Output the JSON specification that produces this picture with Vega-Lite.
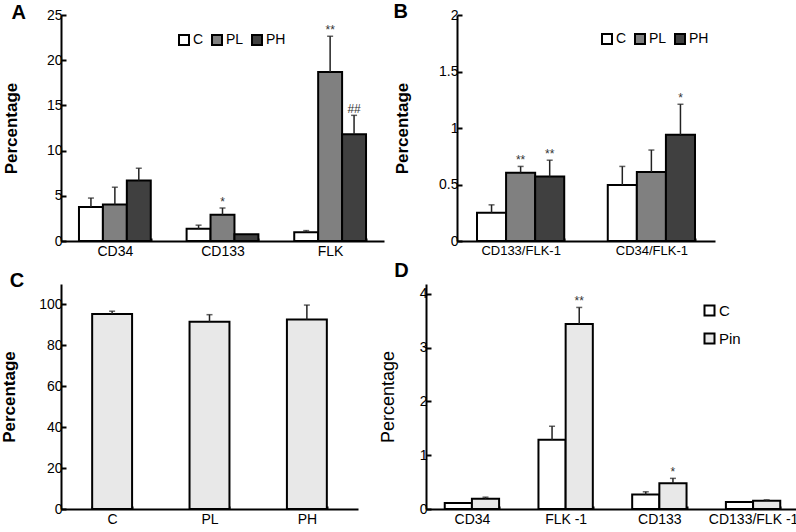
{
  "$schema": "https://vega.github.io/schema/vega-lite/v6.json",
  "padding": {"left": 0, "top": 2, "right": 0, "bottom": 0},
  "spacing": 3,
  "config": {
    "view": {"stroke": null},
    "font": "Liberation Sans",
    "axis": {"domainColor": "black", "domainWidth": 2, "tickColor": "black", "tickWidth": 2, "labelColor": "black", "labelFont": "Liberation Sans", "labelFontSize": 14, "titleFont": "Liberation Sans", "titleColor": "black", "grid": false},
    "axisY": {"tickSize": -5, "labelPadding": 4, "titleFontSize": 17, "titleFontWeight": "bold", "format": "~r"},
    "axisX": {"tickSize": -3, "labelPadding": 6, "labelAngle": 0, "title": null, "tickBand": "extent"},
    "legend": {"symbolType": "square", "symbolStrokeColor": "black", "symbolStrokeWidth": 2, "symbolSize": 100, "labelFontSize": 14, "labelColor": "black", "labelFont": "Liberation Sans", "labelOffset": 2, "title": null},
    "title": {"font": "Liberation Sans", "fontSize": 20, "fontWeight": "bold", "color": "black", "anchor": "start", "frame": "bounds"}
  },
  "resolve": {"scale": {"fill": "independent", "xOffset": "independent", "x": "independent", "y": "independent"}, "legend": {"fill": "independent"}},
  "vconcat": [
    {
      "spacing": 73,
      "bounds": "flush",
      "resolve": {"scale": {"fill": "independent", "xOffset": "independent", "x": "independent", "y": "independent"}, "legend": {"fill": "independent"}},
      "hconcat": [
        {
          "width": 323, "height": 226,
          "title": {"text": "A", "offset": -15, "dx": 9},
          "data": {"values": [
            {"marker": "CD34", "group": "C", "value": 3.75, "err": 4.75},
            {"marker": "CD34", "group": "PL", "value": 4.05, "err": 5.95},
            {"marker": "CD34", "group": "PH", "value": 6.7, "err": 8.05},
            {"marker": "CD133", "group": "C", "value": 1.35, "err": 1.75},
            {"marker": "CD133", "group": "PL", "value": 2.9, "err": 3.65, "ann": "*"},
            {"marker": "CD133", "group": "PH", "value": 0.75},
            {"marker": "FLK", "group": "C", "value": 0.98, "err": 1.15},
            {"marker": "FLK", "group": "PL", "value": 18.7, "err": 22.65, "ann": "**"},
            {"marker": "FLK", "group": "PH", "value": 11.8, "err": 13.9, "ann": "##"}
          ]},
          "encoding": {
            "x": {"field": "marker", "type": "nominal", "sort": ["CD34", "CD133", "FLK"], "scale": {"paddingInner": 0.333, "paddingOuter": 0.167}},
            "xOffset": {"field": "group", "type": "nominal", "sort": ["C", "PL", "PH"], "scale": {"paddingInner": 0, "paddingOuter": 0}}
          },
          "layer": [
            {"mark": {"type": "bar", "stroke": "black", "strokeWidth": 2},
             "encoding": {
               "y": {"field": "value", "type": "quantitative", "title": "Percentage", "scale": {"domain": [0, 25], "nice": false}, "axis": {"values": [0, 5, 10, 15, 20, 25], "titlePadding": 26}},
               "fill": {"field": "group", "type": "nominal", "scale": {"domain": ["C", "PL", "PH"], "range": ["#ffffff", "#808080", "#404040"]}, "legend": {"orient": "none", "direction": "horizontal", "legendX": 116, "legendY": 18, "columnPadding": 4}}
             }},
            {"transform": [{"filter": "isValid(datum.err)"}], "mark": {"type": "rule", "strokeWidth": 1.5, "color": "#222"},
             "encoding": {"y": {"field": "value", "type": "quantitative", "title": "Percentage"}, "y2": {"field": "err"}}},
            {"transform": [{"filter": "isValid(datum.err)"}], "mark": {"type": "tick", "size": 6, "thickness": 1.5, "color": "#222"},
             "encoding": {"y": {"field": "err", "type": "quantitative", "title": "Percentage"}}},
            {"transform": [{"filter": "isValid(datum.ann)"}], "mark": {"type": "text", "fontSize": 12, "baseline": "alphabetic", "dy": -2, "color": "#333"},
             "encoding": {"y": {"field": "err", "type": "quantitative", "title": "Percentage"}, "text": {"field": "ann"}}}
          ]
        },
        {
          "width": 258, "height": 226,
          "title": {"text": "B", "offset": -14, "dx": 0},
          "data": {"values": [
            {"marker": "CD133/FLK-1", "group": "C", "value": 0.25, "err": 0.32},
            {"marker": "CD133/FLK-1", "group": "PL", "value": 0.605, "err": 0.66, "ann": "**"},
            {"marker": "CD133/FLK-1", "group": "PH", "value": 0.57, "err": 0.715, "ann": "**"},
            {"marker": "CD34/FLK-1", "group": "C", "value": 0.495, "err": 0.66},
            {"marker": "CD34/FLK-1", "group": "PL", "value": 0.61, "err": 0.805},
            {"marker": "CD34/FLK-1", "group": "PH", "value": 0.94, "err": 1.21, "ann": "*"}
          ]},
          "encoding": {
            "x": {"field": "marker", "type": "nominal", "sort": ["CD133/FLK-1", "CD34/FLK-1"], "scale": {"paddingInner": 0.333, "paddingOuter": 0.153}, "axis": {"labelFontSize": 13}},
            "xOffset": {"field": "group", "type": "nominal", "sort": ["C", "PL", "PH"], "scale": {"paddingInner": 0, "paddingOuter": 0}}
          },
          "layer": [
            {"mark": {"type": "bar", "stroke": "black", "strokeWidth": 2},
             "encoding": {
               "y": {"field": "value", "type": "quantitative", "title": "Percentage", "scale": {"domain": [0, 2], "nice": false}, "axis": {"values": [0, 0.5, 1, 1.5, 2], "titlePadding": 27}},
               "fill": {"field": "group", "type": "nominal", "scale": {"domain": ["C", "PL", "PH"], "range": ["#ffffff", "#808080", "#404040"]}, "legend": {"orient": "none", "direction": "horizontal", "legendX": 143, "legendY": 17, "columnPadding": 4}}
             }},
            {"transform": [{"filter": "isValid(datum.err)"}], "mark": {"type": "rule", "strokeWidth": 1.5, "color": "#222"},
             "encoding": {"y": {"field": "value", "type": "quantitative", "title": "Percentage"}, "y2": {"field": "err"}}},
            {"transform": [{"filter": "isValid(datum.err)"}], "mark": {"type": "tick", "size": 6, "thickness": 1.5, "color": "#222"},
             "encoding": {"y": {"field": "err", "type": "quantitative", "title": "Percentage"}}},
            {"transform": [{"filter": "isValid(datum.ann)"}], "mark": {"type": "text", "fontSize": 12, "baseline": "alphabetic", "dy": -2, "color": "#333"},
             "encoding": {"y": {"field": "err", "type": "quantitative", "title": "Percentage"}, "text": {"field": "ann"}}}
          ]
        }
      ]
    },
    {
      "spacing": 68,
      "bounds": "flush",
      "resolve": {"scale": {"fill": "independent", "xOffset": "independent", "x": "independent", "y": "independent"}, "legend": {"fill": "independent"}},
      "hconcat": [
        {
          "width": 297, "height": 225,
          "title": {"text": "C", "offset": -7, "dx": 9},
          "data": {"values": [
            {"group": "C", "value": 95.3, "err": 96.7},
            {"group": "PL", "value": 91.5, "err": 95.0},
            {"group": "PH", "value": 92.7, "err": 99.7}
          ]},
          "encoding": {
            "x": {"field": "group", "type": "nominal", "sort": ["C", "PL", "PH"], "scale": {"paddingInner": 0.59, "paddingOuter": 0.32}}
          },
          "layer": [
            {"mark": {"type": "bar", "stroke": "black", "strokeWidth": 2, "fill": "#e8e8e8"},
             "encoding": {
               "y": {"field": "value", "type": "quantitative", "title": "Percentage", "scale": {"domain": [0, 110], "nice": false}, "axis": {"values": [0, 20, 40, 60, 80, 100], "titlePadding": 20}}
             }},
            {"mark": {"type": "rule", "strokeWidth": 1.5, "color": "#222"},
             "encoding": {"y": {"field": "value", "type": "quantitative", "title": "Percentage"}, "y2": {"field": "err"}}},
            {"mark": {"type": "tick", "size": 6, "thickness": 1.5, "color": "#222"},
             "encoding": {"y": {"field": "err", "type": "quantitative", "title": "Percentage"}}}
          ]
        },
        {
          "width": 373, "height": 225,
          "title": {"text": "D", "offset": 3, "dx": 15},
          "data": {"values": [
            {"marker": "CD34", "group": "C", "value": 0.11},
            {"marker": "CD34", "group": "Pin", "value": 0.19, "err": 0.22},
            {"marker": "FLK -1", "group": "C", "value": 1.29, "err": 1.54},
            {"marker": "FLK -1", "group": "Pin", "value": 3.44, "err": 3.75, "ann": "**"},
            {"marker": "CD133", "group": "C", "value": 0.27, "err": 0.32},
            {"marker": "CD133", "group": "Pin", "value": 0.48, "err": 0.57, "ann": "*"},
            {"marker": "CD133/FLK  -1", "group": "C", "value": 0.13},
            {"marker": "CD133/FLK  -1", "group": "Pin", "value": 0.155, "err": 0.17}
          ]},
          "encoding": {
            "x": {"field": "marker", "type": "nominal", "sort": ["CD34", "FLK -1", "CD133", "CD133/FLK  -1"], "scale": {"paddingInner": 0.42, "paddingOuter": 0.2}},
            "xOffset": {"field": "group", "type": "nominal", "sort": ["C", "Pin"], "scale": {"paddingInner": 0, "paddingOuter": 0}}
          },
          "layer": [
            {"mark": {"type": "bar", "stroke": "black", "strokeWidth": 2},
             "encoding": {
               "y": {"field": "value", "type": "quantitative", "title": "Percentage", "scale": {"domain": [0, 4.186], "nice": false}, "axis": {"values": [0, 1, 2, 3, 4], "titlePadding": 22, "titleFontWeight": "normal", "titleFontSize": 18}},
               "fill": {"field": "group", "type": "nominal", "scale": {"domain": ["C", "Pin"], "range": ["#ffffff", "#e8e8e8"]}, "legend": {"orient": "none", "direction": "vertical", "legendX": 276, "legendY": 19, "rowPadding": 9, "labelFontSize": 15}}
             }},
            {"transform": [{"filter": "isValid(datum.err)"}], "mark": {"type": "rule", "strokeWidth": 1.5, "color": "#222"},
             "encoding": {"y": {"field": "value", "type": "quantitative", "title": "Percentage"}, "y2": {"field": "err"}}},
            {"transform": [{"filter": "isValid(datum.err)"}], "mark": {"type": "tick", "size": 6, "thickness": 1.5, "color": "#222"},
             "encoding": {"y": {"field": "err", "type": "quantitative", "title": "Percentage"}}},
            {"transform": [{"filter": "isValid(datum.ann)"}], "mark": {"type": "text", "fontSize": 12, "baseline": "alphabetic", "dy": -2, "color": "#333"},
             "encoding": {"y": {"field": "err", "type": "quantitative", "title": "Percentage"}, "text": {"field": "ann"}}}
          ]
        }
      ]
    }
  ]
}
